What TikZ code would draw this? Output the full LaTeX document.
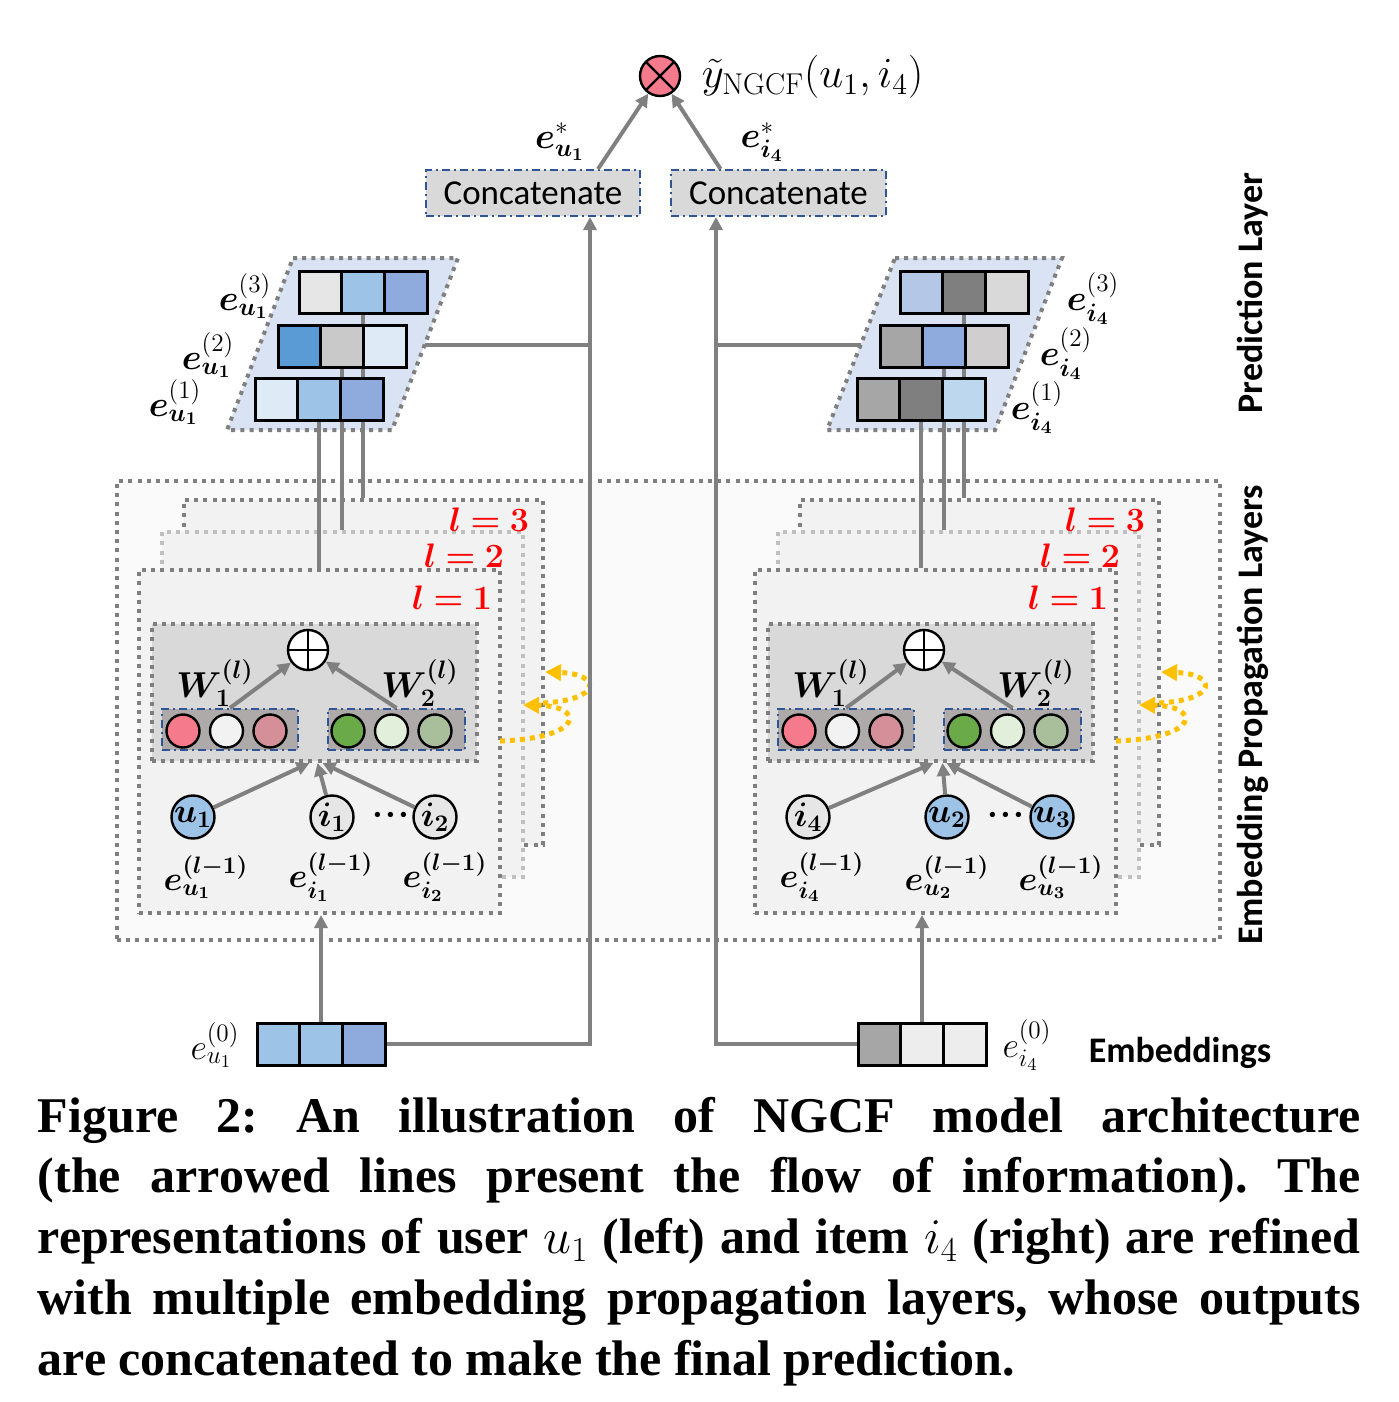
\documentclass[tikz,border=0pt]{standalone}
\usepackage{fix-cm}
\usepackage{amsmath}
\usepackage{bm}
\usepackage{fontspec}
\newfontfamily\calfont{Carlito}
\newfontfamily\capfont{Liberation Serif}
\usetikzlibrary{arrows.meta,fit}

%colours
\definecolor{flowgray}{HTML}{808080}
\definecolor{dotgray}{HTML}{7F7F7F}
\definecolor{dotlight}{HTML}{BFBFBF}
\definecolor{layerfill}{HTML}{F2F2F2}
\definecolor{outerfill}{HTML}{FAFAFA}
\definecolor{aggfill}{HTML}{D9D9D9}
\definecolor{grpfill}{HTML}{AEAAAA}
\definecolor{dashblue}{HTML}{2F5597}
\definecolor{stackfill}{HTML}{DAE3F3}
\definecolor{gold}{HTML}{FFC000}
\definecolor{pinkc}{HTML}{F47A8C}
\definecolor{whitec}{HTML}{F2F2F2}
\definecolor{dustyc}{HTML}{D48F98}
\definecolor{greenc}{HTML}{6AAA48}
\definecolor{mintc}{HTML}{E2EFDA}
\definecolor{sagec}{HTML}{A9BF9C}
\definecolor{ublue}{HTML}{9DC3E6}
\definecolor{igray}{HTML}{E7E6E6}
\definecolor{cA}{HTML}{E7E6E6}
\definecolor{cB}{HTML}{9DC3E6}
\definecolor{cC}{HTML}{8FAADC}
\definecolor{cD}{HTML}{5B9BD5}
\definecolor{cE}{HTML}{C9C9C9}
\definecolor{cF}{HTML}{DEEBF7}
\definecolor{cG}{HTML}{B4C7E7}
\definecolor{cH}{HTML}{7F7F7F}
\definecolor{cI}{HTML}{D9D9D9}
\definecolor{cJ}{HTML}{A6A6A6}
\definecolor{cK}{HTML}{D0CECE}
\definecolor{cL}{HTML}{BDD7EE}
\definecolor{cM}{HTML}{EDEDED}

\tikzset{every picture/.style={line width=0.75pt}}
\tikzset{
  dotbox/.style={draw=dotgray, line width=2pt, dash pattern=on 2pt off 2.6pt, fill=layerfill, inner sep=0pt},
  stackbox/.style={draw=dotgray, line width=2pt, dash pattern=on 2pt off 2.6pt, fill=stackfill},
  dashdot/.style={draw=dashblue, line width=1pt, dash pattern=on 4pt off 2pt on 1pt off 2pt},
  grpbox/.style={dashdot, fill=grpfill, inner sep=0pt},
  catbox/.style={dashdot, fill=aggfill, inner sep=0pt, minimum height=23pt, font=\calfont\fontsize{17.5}{17.5}\selectfont},
  flow/.style={draw=flowgray, line width=2pt, -{Triangle[length=6.5pt,width=6.5pt]}},
  link/.style={draw=flowgray, line width=2pt},
  feedback/.style={draw=gold, line width=2.5pt, dash pattern=on 2.5pt off 2.5pt, -{Triangle[length=8pt,width=8pt]}},
  cell/.style={draw=black, line width=1.5pt, minimum width=21.33pt, minimum height=21pt, inner sep=0pt},
  ball/.style={circle, draw=black, line width=1.2pt, minimum size=16.5pt, inner sep=0pt},
  vnode/.style={circle, draw=black, line width=1.2pt, minimum size=21.5pt, inner sep=0pt, font=\fontsize{17}{17}\selectfont},
  opnode/.style={circle, draw=black, line width=1.2pt, minimum size=20pt, inner sep=0pt},
  mlabel/.style={inner sep=0pt, font=\fontsize{18}{18}\selectfont},
  slabel/.style={inner sep=0pt, font=\fontsize{17}{17}\selectfont},
  layerlbl/.style={inner sep=0pt, text=red, font=\fontsize{17}{17}\selectfont},
  sidelbl/.style={rotate=90, inner sep=0pt, font=\calfont\bfseries\fontsize{18}{18}\selectfont},
}

\begin{document}
\begin{tikzpicture}[x=0.5pt,y=0.5pt,yscale=-1]
\useasboundingbox (0,0) rectangle (1398,1402);

%Shape: Propagation frame
\node[dotbox, fill=outerfill, fit={(117,481) (1220,940)}] (propbox) {};

%Shape: Layers (left)
\node[dotbox, fit={(184,500) (543,845)}] (layL3) {};
\node[dotbox, draw=dotlight, fit={(162,532) (523,877)}] (layL2) {};
\node[dotbox, fit={(139,570) (500,913)}] (layL1) {};
%Shape: Layers (right)
\node[dotbox, fit={(800,500) (1159,845)}] (layR3) {};
\node[dotbox, draw=dotlight, fit={(778,532) (1139,877)}] (layR2) {};
\node[dotbox, fit={(755,570) (1116,913)}] (layR1) {};

% Text Node
\node[layerlbl] (lvlL3) at (489,520) {$\bm{l=3}$};
\node[layerlbl] (lvlL2) at (464,556) {$\bm{l=2}$};
\node[layerlbl] (lvlL1) at (452,598) {$\bm{l=1}$};
\node[layerlbl] (lvlR3) at (1105,520) {$\bm{l=3}$};
\node[layerlbl] (lvlR2) at (1080,556) {$\bm{l=2}$};
\node[layerlbl] (lvlR1) at (1068,598) {$\bm{l=1}$};

%Curve Lines: layer feedback
\coordinate (fbLa) at (500,741);
\coordinate (fbLb) at (523,705);
\coordinate (fbLc) at (543,703);
\coordinate (fbLd) at (545,672);
\draw[feedback] (fbLa) .. controls (585,738) and (585,706) .. (fbLb);
\draw[feedback] (fbLc) .. controls (602,700) and (602,674) .. (fbLd);
\coordinate (fbRa) at (1116,741);
\coordinate (fbRb) at (1139,705);
\coordinate (fbRc) at (1159,703);
\coordinate (fbRd) at (1161,672);
\draw[feedback] (fbRa) .. controls (1201,738) and (1201,706) .. (fbRb);
\draw[feedback] (fbRc) .. controls (1218,700) and (1218,674) .. (fbRd);

%Shape: Aggregation (left)
\node[dotbox, fill=aggfill, fit={(152,624) (477,761)}] (aggL) {};
\node[grpbox, fit={(162,709) (298,750)}] (grpL1) {};
\node[grpbox, fit={(328,709) (465,750)}] (grpL2) {};
\foreach \c [count=\k] in {pinkc,whitec,dustyc}
  \node[ball, fill=\c] (bL1-\k) at ({183+43.5*(\k-1)},731) {};
\foreach \c [count=\k] in {greenc,mintc,sagec}
  \node[ball, fill=\c] (bL2-\k) at ({348+43.5*(\k-1)},731) {};
\node[opnode, fill=white, path picture={\draw[line width=1.2pt] (path picture bounding box.north) -- (path picture bounding box.south) (path picture bounding box.west) -- (path picture bounding box.east);}] (oplusL) at (308,650) {};
\node[mlabel] (WL1) at (215,683) {$\bm{W}_{\bm{1}}^{\bm{(l)}}$};
\node[mlabel] (WL2) at (420,683) {$\bm{W}_{\bm{2}}^{\bm{(l)}}$};
\draw[flow] (grpL1.north) -- (oplusL);
\draw[flow] (grpL2.north) -- (oplusL);

%Shape: Aggregation (right)
\node[dotbox, fill=aggfill, fit={(768,624) (1093,761)}] (aggR) {};
\node[grpbox, fit={(778,709) (914,750)}] (grpR1) {};
\node[grpbox, fit={(944,709) (1081,750)}] (grpR2) {};
\foreach \c [count=\k] in {pinkc,whitec,dustyc}
  \node[ball, fill=\c] (bR1-\k) at ({799+43.5*(\k-1)},731) {};
\foreach \c [count=\k] in {greenc,mintc,sagec}
  \node[ball, fill=\c] (bR2-\k) at ({964+43.5*(\k-1)},731) {};
\node[opnode, fill=white, path picture={\draw[line width=1.2pt] (path picture bounding box.north) -- (path picture bounding box.south) (path picture bounding box.west) -- (path picture bounding box.east);}] (oplusR) at (924,650) {};
\node[mlabel] (WR1) at (831,683) {$\bm{W}_{\bm{1}}^{\bm{(l)}}$};
\node[mlabel] (WR2) at (1036,683) {$\bm{W}_{\bm{2}}^{\bm{(l)}}$};
\draw[flow] (grpR1.north) -- (oplusR);
\draw[flow] (grpR2.north) -- (oplusR);

%Shape: Neighbours (left)
\node[vnode, fill=ublue] (uL) at (193,817) {$\bm{u_1}$};
\node[vnode, fill=igray] (iL1) at (332,817) {$\bm{i_1}$};
\node[slabel] (dotsL) at (391,815) {$\bm{\cdot}\!\bm{\cdot}\!\bm{\cdot}$};
\node[vnode, fill=igray] (iL2) at (435,817) {$\bm{i_2}$};
\node[slabel] (euL) at (206,877) {$\bm{e}^{\bm{(l-1)}}_{\bm{u_1}}$};
\node[slabel] (eiL1) at (331,877) {$\bm{e}^{\bm{(l-1)}}_{\bm{i_1}}$};
\node[slabel] (eiL2) at (445,877) {$\bm{e}^{\bm{(l-1)}}_{\bm{i_2}}$};
\draw[flow] (uL) -- ([xshift=-2.5pt]aggL.south);
\draw[flow] (iL1) -- ([xshift=1.5pt]aggL.south);
\draw[flow] (iL2) -- ([xshift=4pt]aggL.south);

%Shape: Neighbours (right)
\node[vnode, fill=igray] (iR) at (808,817) {$\bm{i_4}$};
\node[vnode, fill=ublue] (uR2) at (947,817) {$\bm{u_2}$};
\node[slabel] (dotsR) at (1006,815) {$\bm{\cdot}\!\bm{\cdot}\!\bm{\cdot}$};
\node[vnode, fill=ublue] (uR3) at (1052,817) {$\bm{u_3}$};
\node[slabel] (eiR) at (822,877) {$\bm{e}^{\bm{(l-1)}}_{\bm{i_4}}$};
\node[slabel] (euR2) at (947,877) {$\bm{e}^{\bm{(l-1)}}_{\bm{u_2}}$};
\node[slabel] (euR3) at (1061,877) {$\bm{e}^{\bm{(l-1)}}_{\bm{u_3}}$};
\draw[flow] (iR) -- ([xshift=1.5pt]aggR.south);
\draw[flow] (uR2) -- ([xshift=6pt]aggR.south);
\draw[flow] (uR3) -- ([xshift=8pt]aggR.south);

%Shape: Layer outputs (left)
\draw[stackbox] (293,258) -- (458,258) -- (392,430) -- (227,430) -- cycle;
\coordinate (stkLout) at (425,345);
\path (363,292) coordinate (r3L) (342,346) coordinate (r2L) (319,399) coordinate (r1L);
\draw[flow] (layL3.north -| r3L) -- ([yshift=-10.5pt]r3L);
\draw[flow] (layL2.north -| r2L) -- ([yshift=-10.5pt]r2L);
\draw[flow] (layL1.north -| r1L) -- ([yshift=-10.5pt]r1L);
\foreach \c [count=\k] in {cA,cB,cC}
  \node[cell, fill=\c] (lu3-\k) at ({299+42.67*\k-21.33},292) {};
\foreach \c [count=\k] in {cD,cE,cF}
  \node[cell, fill=\c] (lu2-\k) at ({278+42.67*\k-21.33},346) {};
\foreach \c [count=\k] in {cF,cB,cC}
  \node[cell, fill=\c] (lu1-\k) at ({255+42.67*\k-21.33},399) {};
\node[mlabel] (eu3) at (245,296) {$\bm{e}^{(3)}_{\bm{u_1}}$};
\node[mlabel] (eu2) at (208,355) {$\bm{e}^{(2)}_{\bm{u_1}}$};
\node[mlabel] (eu1) at (175,402) {$\bm{e}^{(1)}_{\bm{u_1}}$};

%Shape: Layer outputs (right)
\draw[stackbox] (895,258) -- (1062,258) -- (995,430) -- (827,430) -- cycle;
\coordinate (stkRout) at (861,345);
\path (964,292) coordinate (r3R) (944,346) coordinate (r2R) (921,399) coordinate (r1R);
\draw[flow] (layR3.north -| r3R) -- ([yshift=-10.5pt]r3R);
\draw[flow] (layR2.north -| r2R) -- ([yshift=-10.5pt]r2R);
\draw[flow] (layR1.north -| r1R) -- ([yshift=-10.5pt]r1R);
\foreach \c [count=\k] in {cG,cH,cI}
  \node[cell, fill=\c] (li3-\k) at ({900+42.67*\k-21.33},292) {};
\foreach \c [count=\k] in {cJ,cC,cK}
  \node[cell, fill=\c] (li2-\k) at ({880+42.67*\k-21.33},346) {};
\foreach \c [count=\k] in {cJ,cH,cL}
  \node[cell, fill=\c] (li1-\k) at ({857+42.67*\k-21.33},399) {};
\node[mlabel] (ei3) at (1093,299) {$\bm{e}^{(3)}_{\bm{i_4}}$};
\node[mlabel] (ei2) at (1066,354) {$\bm{e}^{(2)}_{\bm{i_4}}$};
\node[mlabel] (ei1) at (1037,408) {$\bm{e}^{(1)}_{\bm{i_4}}$};

%Shape: Prediction
\node[catbox, minimum width=107pt] (catL) at (533,193) {Concatenate};
\node[catbox, minimum width=107.5pt] (catR) at (778.5,193) {Concatenate};
\node[opnode, fill=pinkc, path picture={\draw[line width=1.2pt] (path picture bounding box.north west) -- (path picture bounding box.south east) (path picture bounding box.north east) -- (path picture bounding box.south west);}] (otimes) at (660,76) {};
\node[anchor=west, inner sep=0pt, font=\fontsize{21.5}{21.5}\selectfont] (ypred) at (701,77) {$\tilde{y}_{\mathrm{NGCF}}(u_1,i_4)$};
\draw[flow] ([xshift=32.5pt]catL.north) -- (otimes);
\draw[flow] ([xshift=-29pt]catR.north) -- (otimes);
\node[mlabel] (estarU) at (560,142) {$\bm{e}^{*}_{\bm{u_1}}$};
\node[mlabel] (estarI) at (762,142) {$\bm{e}^{*}_{\bm{i_4}}$};

%Shape: Embeddings
\foreach \c [count=\k] in {cB,cB,cC}
  \node[cell, fill=\c] (embL-\k) at ({257+42.67*\k-21.33},1044) {};
\foreach \c [count=\k] in {cJ,cM,cM}
  \node[cell, fill=\c] (embR-\k) at ({858+42.67*\k-21.33},1044) {};
\node[mlabel] (e0u) at (215,1045) {$e^{(0)}_{u_1}$};
\node[mlabel] (e0i) at (1027,1045) {$e^{(0)}_{i_4}$};
\draw[flow] (embL-2.north) -- (embL-2.north |- layL1.south);
\draw[flow] (embR-2.north) -- (embR-2.north |- layR1.south);

%Lines: buses to concatenation
\coordinate (busL) at (590,0);
\coordinate (busR) at (716,0);
\draw[flow] (embL-3.east) -| (catL.south -| busL);
\draw[flow] (embR-1.west) -| (catR.south -| busR);
\draw[link] (stkLout) -- (stkLout -| busL);
\draw[link] (stkRout) -- (stkRout -| busR);

% Text Node
\node[sidelbl] (predlbl) at (1253,293) {Prediction Layer};
\node[sidelbl] (proplbl) at (1253,715) {Embedding Propagation Layers};
\node[inner sep=0pt, font=\calfont\bfseries\fontsize{18}{18}\selectfont] (emblbl) at (1180,1053) {Embeddings};

% Caption
\node[anchor=base west, inner sep=0pt, text width=661.5pt, align=justify, font=\capfont\bfseries\fontsize{25}{30.4}\selectfont\frenchspacing] (caption) at (37,1132) {Figure 2: An illustration of NGCF model architecture\linebreak (the arrowed lines present the flow of information). The\linebreak representations of user $u_1$ (left) and item $i_4$ (right) are refined\linebreak with multiple embedding propagation layers, whose outputs\linebreak are concatenated to make the final prediction.};

\end{tikzpicture}
\end{document}
